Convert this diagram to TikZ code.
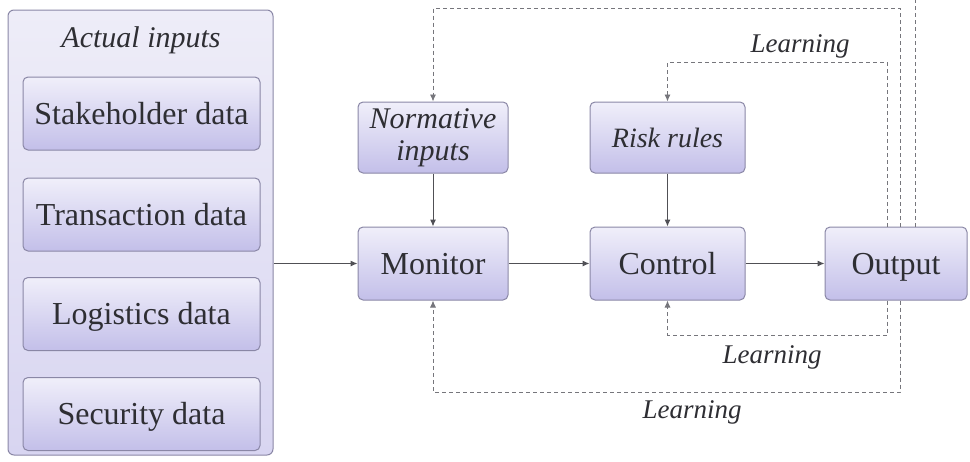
\documentclass[tikz,border=0pt]{standalone}
\usepackage{fontspec}
\setmainfont{Liberation Serif}
\usetikzlibrary{arrows.meta,calc}
\definecolor{boxline}{HTML}{8A87A6}
\definecolor{boxtop}{HTML}{F0EFFA}
\definecolor{boxbot}{HTML}{C3BFE9}
\definecolor{paneltop}{HTML}{EEEDF8}
\definecolor{panelbot}{HTML}{D8D5F1}
\definecolor{inktext}{HTML}{2E2E33}
\definecolor{wire}{HTML}{505055}
\definecolor{loop}{HTML}{76767C}
\tikzset{
  box/.style={draw=boxline, line width=0.5pt, rounded corners=2.5pt,
    top color=boxtop, bottom color=boxbot, text=inktext,
    font=\fontsize{16}{18}\selectfont, align=center, inner sep=0pt,
    text height=11.5pt, text depth=1pt},
  panelbox/.style={draw=boxline, line width=0.5pt, rounded corners=3pt,
    top color=paneltop, bottom color=panelbot},
  flow/.style={draw=wire, line width=0.5pt, -{Latex[length=3.5pt,width=3pt]}},
  feedback/.style={draw=loop, line width=0.45pt, dash pattern=on 2pt off 1.5pt,
    -{Latex[length=3.5pt,width=3pt]}},
  feedbackplain/.style={draw=loop, line width=0.45pt, dash pattern=on 2pt off 1.5pt},
  tag/.style={text=inktext, font=\fontsize{13.5}{15}\selectfont\itshape},
}
\begin{document}
\begin{tikzpicture}[x=0.5pt, y=-0.5pt]
\useasboundingbox (0,0) rectangle (970,461);

% input panel with its four data sources
\node[panelbox, minimum width=132.5pt, minimum height=222.5pt] (panel) at (140.5,232.5) {};
\node[tag, font=\fontsize{15}{17}\selectfont\itshape] (paneltitle) at (141,40) {Actual inputs};
\node[box, minimum width=118.5pt, minimum height=36.5pt] (stake) at (141.5,113.5) {Stakeholder data};
\node[box, minimum width=118.5pt, minimum height=36.5pt] (trans) at (141.5,214.5) {Transaction data};
\node[box, minimum width=118.5pt, minimum height=36.5pt] (logi) at (141.5,314) {Logistics data};
\node[box, minimum width=118.5pt, minimum height=36.5pt] (secu) at (141.5,414) {Security data};

% processing chain
\node[box, minimum width=75pt, minimum height=35.5pt, text height=, text depth=,
      font=\fontsize{15}{16}\selectfont\itshape] (norm) at (433,137.5) {Normative\\inputs};
\node[box, minimum width=75pt, minimum height=36.5pt] (monitor) at (433,263.5) {Monitor};
\node[box, minimum width=77.5pt, minimum height=35.5pt, text height=10.5pt,
      font=\fontsize{14}{16}\selectfont\itshape] (risk) at (667.5,137.5) {Risk rules};
\node[box, minimum width=77.5pt, minimum height=36.5pt] (control) at (667.5,263.5) {Control};
\node[box, minimum width=71pt, minimum height=36.5pt] (output) at (896,263.5) {Output};

\draw[flow] (panel.east |- monitor) -- (monitor.west);
\draw[flow] (monitor) -- (control);
\draw[flow] (control) -- (output);
\draw[flow] (norm) -- (monitor);
\draw[flow] (risk) -- (control);

% learning feedback loops
\coordinate (topA) at (900,8);
\coordinate (topB) at (887,62);
\coordinate (topC) at (915,0);
\coordinate (botA) at (887,335);
\coordinate (botB) at (900,392);

\draw[feedback] (output.north -| topA) |- (topA -| norm) -- (norm.north);
\draw[feedback] (output.north -| topB) |- (topB -| risk) -- (risk.north);
\draw[feedbackplain] (output.north -| topC) -- (topC);
\draw[feedback] (output.south -| botA) |- (botA -| control) -- (control.south);
\draw[feedback] (output.south -| botB) |- (botB -| monitor) -- (monitor.south);

\node[tag] (learnTop) at (800,46) {Learning};
\node[tag] (learnCtl) at (772,357) {Learning};
\node[tag] (learnMon) at (692,412) {Learning};
\end{tikzpicture}
\end{document}
